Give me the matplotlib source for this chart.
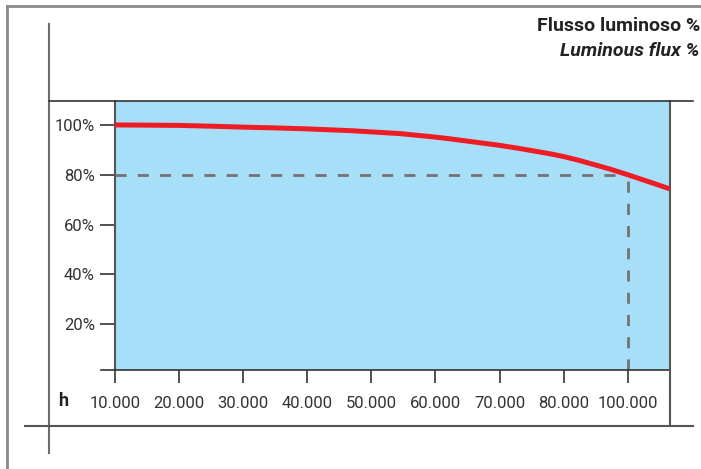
import numpy as np
import matplotlib
matplotlib.use("Agg")
import matplotlib.pyplot as plt
from matplotlib.lines import Line2D

# dati (posizioni = indice della categoria sull'asse x)
ore_labels = ["10.000", "20.000", "30.000", "40.000", "50.000",
              "60.000", "70.000", "80.000", "100.000"]
ore_pos = [0, 1, 2, 3, 4, 5, 6, 7, 8]
curva_pos = [0, 1, 1.48, 2, 2.5, 3, 3.67, 4, 4.45, 5, 5.23, 6, 6.32,
             6.79, 7, 7.25, 7.72, 8, 8.35, 8.66]
flusso = [100, 99.8, 99.5, 99.1, 98.8, 98.4, 97.7, 97.2, 96.5, 95.1, 94.4,
          91.8, 90.5, 88.4, 87.3, 85.7, 82.3, 80.0, 77.0, 74.3]
y_ticks = [20, 40, 60, 80, 100]
y_labels = ["20%", "40%", "60%", "80%", "100%"]
soglia_pos = 8
soglia_val = 80

W, H = 701, 469
fig = plt.figure(figsize=(W / 100, H / 100), dpi=100)


def fx(px):
    return px / W


def fy(py):
    return 1 - py / H


def fig_line(x0, y0, x1, y1, color="#555555", lw=1.5):
    fig.add_artist(Line2D([fx(x0), fx(x1)], [fy(y0), fy(y1)],
                          transform=fig.transFigure, color=color, lw=lw))


ax = fig.add_axes([fx(115), fy(370), fx(670) - fx(115), fy(101) - fy(370)])
ax.set_facecolor("#a8dff8")
ax.set_xlim(0, 8.66)
ax.set_ylim(1.6, 109.6)

ax.plot(curva_pos, flusso, color="#ee1c25", lw=3.6, solid_capstyle="butt",
        solid_joinstyle="round", zorder=5)
ax.plot([0, soglia_pos], [soglia_val, soglia_val], color="#737373", lw=2,
        dashes=(4, 4), zorder=4)
ax.plot([soglia_pos, soglia_pos], [1.6, soglia_val], color="#737373", lw=2,
        dashes=(4, 4), zorder=4)

for s in ["top", "bottom"]:
    ax.spines[s].set_visible(False)
for s in ["left", "right"]:
    ax.spines[s].set_color("#555555")
    ax.spines[s].set_linewidth(1.5)

ax.set_xticks(ore_pos)
ax.set_xticklabels(ore_labels)
ax.set_yticks(y_ticks)
ax.set_yticklabels(y_labels)
ax.tick_params(axis="x", direction="out", length=9, width=1.2, color="#333333",
               pad=10, labelsize=12, labelcolor="#333333")
ax.tick_params(axis="y", direction="out", length=10.5, width=1.2, color="#333333",
               pad=4, labelsize=12, labelcolor="#333333")
for lab in ax.get_xticklabels() + ax.get_yticklabels():
    lab.set_fontfamily(["Roboto", "DejaVu Sans"])

# cornice e linee di costruzione
fig_line(7, 6, 701, 6, color="#8a8a8a", lw=2)
fig_line(7, 6, 7, 469, color="#8a8a8a", lw=2)
fig_line(49, 24, 49, 453, color="#6e6e6e", lw=1.5)
fig_line(49, 101, 693, 101, color="#333333", lw=1.2)
fig_line(25, 426, 693, 426, color="#555555", lw=1.5)
fig_line(101, 370, 670, 370, color="#333333", lw=1.2)
fig_line(670, 370, 670, 426, color="#555555", lw=1.5)

fig.text(fx(63), fy(401), "h", ha="center", va="center", fontsize=13,
         fontweight="bold", color="#222222", family=["Roboto", "DejaVu Sans"])
titolo_font = ["Liberation Sans Narrow", "Roboto", "DejaVu Sans"]
fig.text(fx(700), fy(26), "Flusso luminoso %", ha="right", va="center",
         fontsize=14, fontweight="bold", color="#222222", family=titolo_font)
fig.text(fx(700), fy(51), "Luminous flux %", ha="right", va="center",
         fontsize=14, fontweight="bold", fontstyle="italic", color="#222222",
         family=titolo_font)

fig.savefig("out.png", dpi=100)
